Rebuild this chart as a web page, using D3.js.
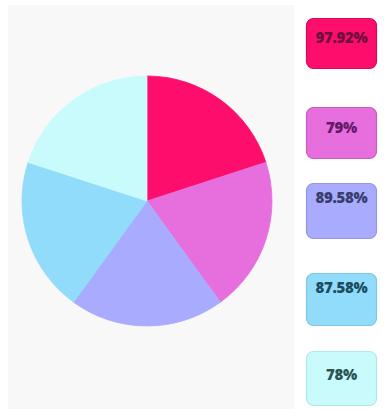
<!DOCTYPE html>
<html><head><meta charset="utf-8">
<script src="https://cdn.jsdelivr.net/npm/d3@7"></script>
<style>html,body{margin:0;padding:0;background:#fff;}svg{display:block;}</style>
</head><body>
<svg id="c" width="388" height="409"></svg>
<script>
const labels = ["97.92%", "79%", "89.58%", "87.58%", "78%"];
const sliceWeights = [20, 20, 20, 20, 20];
const fills = ["#fd0e6c", "#e66edd", "#a9abfe", "#90dcfa", "#c9fbfc"];
const strokes = ["#d80a5c", "#c95cc0", "#9496e6", "#7cc8e6", "#b0e8ea"];
const textColors = ["#6e0f3c", "#641a66", "#383d6c", "#1d4c60", "#2b5353"];
const boxTops = [18, 107, 183, 273, 351];
const boxHeights = [50, 51, 55, 52, 54];
const textY = [39, 129, 199, 289, 376];

const svg = d3.select("#c");
svg.append("rect").attr("x", 8).attr("y", 5).attr("width", 286).attr("height", 404).attr("fill", "#f8f8f8");

const cx = 147, cy = 201, r = 125;
const pie = d3.pie().sort(null).value(d => d);
const arc = d3.arc().innerRadius(0).outerRadius(r);
const g = svg.append("g").attr("transform", `translate(${cx},${cy})`);
g.selectAll("path").data(pie(sliceWeights)).join("path")
  .attr("d", arc)
  .attr("fill", (d, i) => fills[i])
  .attr("stroke", (d, i) => fills[i])
  .attr("stroke-width", 0.8);

const lg = svg.append("g");
labels.forEach((t, i) => {
  lg.append("rect").attr("x", 306.5).attr("y", boxTops[i] + 0.5)
    .attr("width", 70).attr("height", boxHeights[i]).attr("rx", 7)
    .attr("fill", fills[i]).attr("stroke", strokes[i]).attr("stroke-width", 1.2);
  lg.append("text").attr("x", 341.5).attr("y", textY[i])
    .attr("text-anchor", "middle").attr("dominant-baseline", "middle")
    .style("font-family", "'Open Sans', sans-serif")
    .style("font-weight", "800").style("font-size", "15px")
    .style("letter-spacing", "-0.3px")
    .attr("fill", textColors[i]).text(t);
});
</script>
</body></html>
